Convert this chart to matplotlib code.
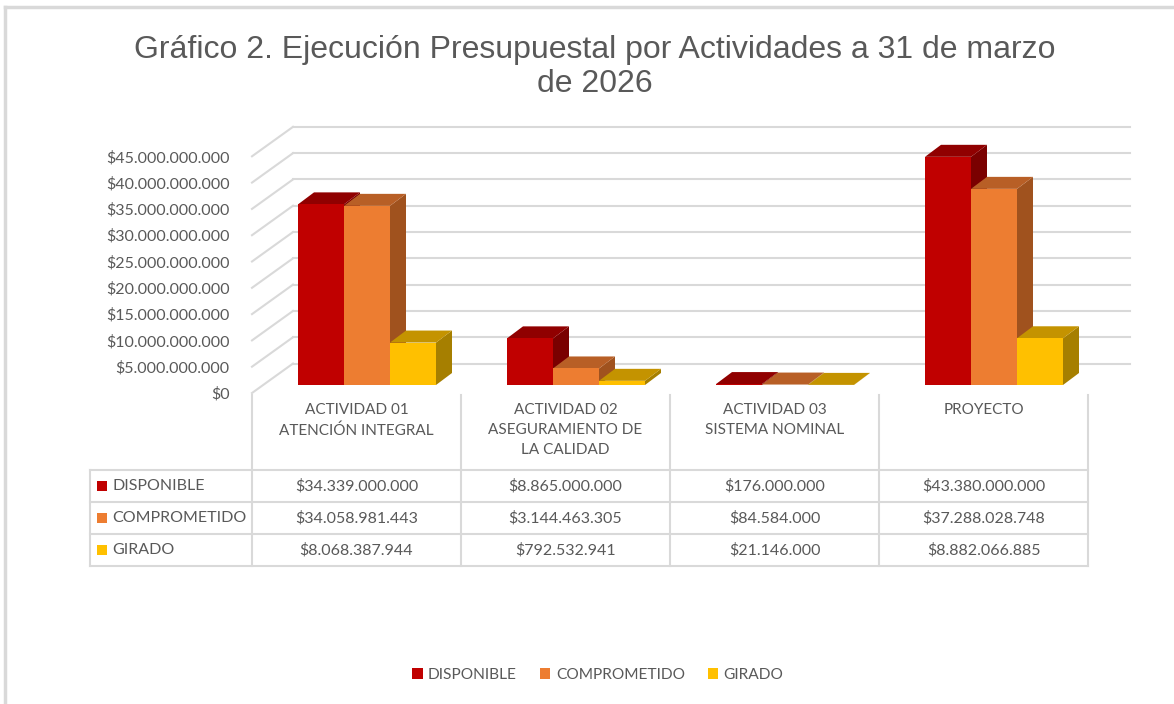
import numpy as np
import matplotlib.pyplot as plt
from matplotlib.patches import Polygon, Rectangle, Patch
from matplotlib.lines import Line2D

## datos del grafico
categorias = ['ACTIVIDAD 01\nATENCIÓN INTEGRAL', 'ACTIVIDAD 02\nASEGURAMIENTO DE\nLA CALIDAD',
              'ACTIVIDAD 03\nSISTEMA NOMINAL', 'PROYECTO']
series = ['DISPONIBLE', 'COMPROMETIDO', 'GIRADO']
disponible = [34339000000, 8865000000, 176000000, 43380000000]
comprometido = [34058981443, 3144463305, 84584000, 37288028748]
girado = [8068387944, 792532941, 21146000, 8882066885]
ticks_y = [0, 5e9, 10e9, 15e9, 20e9, 25e9, 30e9, 35e9, 40e9, 45e9]

## colores (frente, techo, lado)
col_frente = ['#C00000', '#ED7D31', '#FFC000']
col_techo = ['#900000', '#B85F26', '#C49300']
col_lado = ['#7A0000', '#A0521E', '#A67F00']
gris = '#595959'
linea = '#D9D9D9'

def fmt(v):
    return '$' + f'{int(round(v)):,}'.replace(',', '.')

W, H = 1174, 704
fig = plt.figure(figsize=(W / 100, H / 100), dpi=100)

def px(x, y):
    return x / W, 1 - y / H

## ejes principales (pseudo 3D)
y0 = 393
ppb = 5.26  # pixeles por 1e9
ymax = 51e9
ax = fig.add_axes([252 / W, (H - y0) / H, 878 / W, ymax / 1e9 * ppb / H])
ax.set_xlim(0, 878 / 209)
ax.set_ylim(0, ymax)
for s in ax.spines.values():
    s.set_visible(False)
ax.set_xticks([])
ax.set_yticks(ticks_y)
ax.set_yticklabels([fmt(t) for t in ticks_y], fontsize=11.5, color=gris, family='Lato')
ax.tick_params(axis='y', length=0, pad=16)

DX, DY = 41 / 209, 5.6e9  # profundidad de la pared
for t in ticks_y:
    ax.plot([0, DX], [t, t + DY], color=linea, lw=1.5, zorder=1, clip_on=False)
    ax.plot([DX, 878 / 209], [t + DY, t + DY], color=linea, lw=1.5, zorder=1, clip_on=False)

## barras
ancho = 46 / 209
base = 8 / ppb * 1e9
ddx, ddy = 16 / 209, 12 / ppb * 1e9
valores = [disponible, comprometido, girado]
z = 2
for i in range(len(categorias)):
    for j in range(3):
        h = valores[j][i]
        xl = i + ancho + j * ancho
        xr = xl + ancho
        yt = base + h
        lado = Polygon([[xr, base], [xr + ddx, base + ddy], [xr + ddx, yt + ddy], [xr, yt]],
                       closed=True, facecolor=col_lado[j], edgecolor='none', zorder=z)
        techo = Polygon([[xl, yt], [xr, yt], [xr + ddx, yt + ddy], [xl + ddx, yt + ddy]],
                        closed=True, facecolor=col_techo[j], edgecolor='none', zorder=z)
        ax.add_patch(lado)
        ax.add_patch(techo)
        ax.bar(xl, h, width=ancho, bottom=base, align='edge', color=col_frente[j],
               edgecolor='none', zorder=z + 0.5)
        z += 1

## marco de la figura
fig.add_artist(Line2D([5 / W, 5 / W], [0, 1 - 7 / H], color=linea, lw=2.5, transform=fig.transFigure))
fig.add_artist(Line2D([5 / W, 1], [1 - 7 / H, 1 - 7 / H], color=linea, lw=2.5, transform=fig.transFigure))

## titulo
fig.text(595 / W, 1 - 67 / H, 'Gráfico 2. Ejecución Presupuestal por Actividades a 31 de marzo\nde 2026',
         ha='center', va='center', fontsize=23, color=gris, family='Liberation Sans', linespacing=1.2)

## tabla de datos
cols = [252, 461, 670, 879, 1088]
filas = [470, 502, 534, 566]
tf = fig.transFigure
for x in cols:
    fig.add_artist(Line2D([x / W, x / W], [1 - 395 / H, 1 - 566 / H], color=linea, lw=1.5, transform=tf))
fig.add_artist(Line2D([90 / W, 90 / W], [1 - 470 / H, 1 - 566 / H], color=linea, lw=1.5, transform=tf))
for y in filas:
    fig.add_artist(Line2D([90 / W, 1088 / W], [1 - y / H, 1 - y / H], color=linea, lw=1.5, transform=tf))

for i, cat in enumerate(categorias):
    xc = (cols[i] + cols[i + 1]) / 2
    fig.text(*px(xc, 403), cat, ha='center', va='top', fontsize=11, color=gris,
             family='Lato', linespacing=1.55)
    for j in range(3):
        yc = (filas[j] + filas[j + 1]) / 2
        fig.text(*px(xc, yc), fmt(valores[j][i]), ha='center', va='center', fontsize=11.5,
                 color=gris, family='Lato')

for j in range(3):
    yc = (filas[j] + filas[j + 1]) / 2
    fig.add_artist(Rectangle(px(97, yc + 5), 10 / W, 10 / H, facecolor=col_frente[j],
                             edgecolor='none', transform=tf))
    fig.text(*px(112, yc), series[j], ha='left', va='center', fontsize=11.5, color=gris, family='Lato')

## leyenda
handles = [Patch(facecolor=c, edgecolor='none') for c in col_frente]
fig.legend(handles, series, loc='center', bbox_to_anchor=px(598, 675), ncol=3, frameon=False,
           prop={'family': 'Lato', 'size': 11.2}, labelcolor=gris, handlelength=0.65,
           handleheight=0.65, handletextpad=0.35, columnspacing=1.5)

fig.savefig('out.png', dpi=100)
